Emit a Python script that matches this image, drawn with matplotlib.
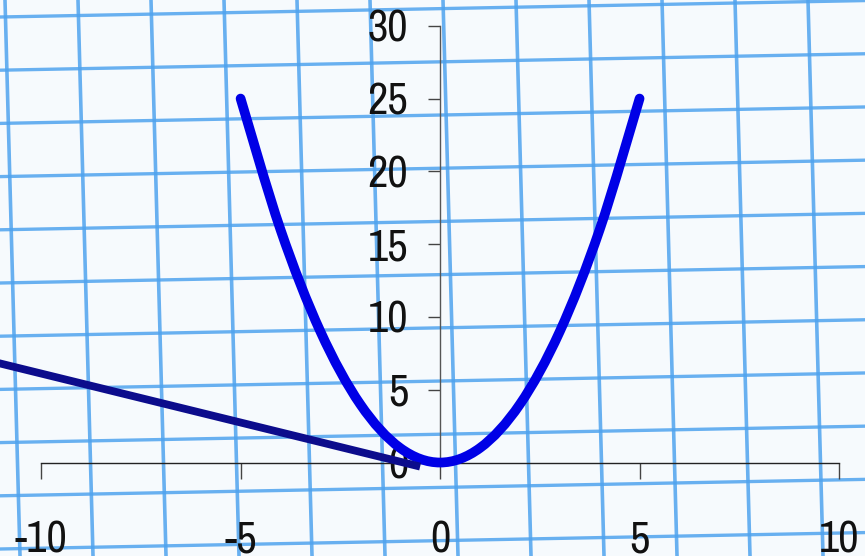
import numpy as np
import matplotlib.pyplot as plt
from matplotlib.path import Path
from matplotlib.patches import PathPatch

# parabola points
x_vals = [-5, -4, -3, -2, -1, 0, 1, 2, 3, 4, 5]
y_vals = [25, 16, 9, 4, 1, 0, 1, 4, 9, 16, 25]

# straight dark line (left end runs off the picture)
line_x = [-12, -0.5]
line_y = [7.46, -0.28]

x_ticks = [-10, -5, 0, 5, 10]
y_ticks = [0, 5, 10, 15, 20, 25, 30]

plt.rcParams['font.family'] = ['Liberation Sans Narrow', 'Arial Narrow', 'Archivo Narrow',
                               'PT Sans Narrow', 'Roboto Condensed', 'Liberation Sans']
plt.rcParams['axes.unicode_minus'] = False

fig = plt.figure(figsize=(8.65, 5.56), dpi=100)
fig.patch.set_facecolor('#f6fafd')

# graph paper behind the chart (pixel coordinates, slightly tilted photo)
bg = fig.add_axes([0, 0, 1, 1])
bg.set_xlim(0, 865)
bg.set_ylim(556, 0)
bg.axis('off')
xs = np.array([0, 865])
for k in range(-1, 12):
    bg.plot(xs, 17 + 53.2 * k - 0.019 * xs, color='#4fa3ee', lw=2.4, alpha=0.85)
ys = np.array([0, 556])
for k in range(-1, 13):
    bg.plot(5 + 73.0 * k + 0.027 * ys, ys, color='#4fa3ee', lw=2.6, alpha=0.85)

ax = fig.add_axes([0, 0, 1, 1])
ax.set_facecolor('none')
ax.set_xlim(-11.03, 10.65)
ax.set_ylim(-6.42, 31.77)


# smoothed curve through the points (like a spreadsheet "smoothed line")
def smooth_path(xv, yv):
    p = np.column_stack([xv, yv]).astype(float)
    verts = [p[0]]
    codes = [Path.MOVETO]
    n = len(p)
    for i in range(n - 1):
        p0 = p[i - 1] if i > 0 else p[i]
        p3 = p[i + 2] if i + 2 < n else p[i + 1]
        c1 = p[i] + (p[i + 1] - p0) / 6
        c2 = p[i + 1] - (p3 - p[i]) / 6
        verts += [c1, c2, p[i + 1]]
        codes += [Path.CURVE4] * 3
    return Path(verts, codes)


curve = PathPatch(smooth_path(x_vals, y_vals), fill=False, edgecolor='#0000e6',
                  lw=7, capstyle='round', joinstyle='round', zorder=3)
ax.add_patch(curve)
ax.plot(line_x, line_y, color='#0c0c8c', lw=5.6, solid_capstyle='butt', zorder=4)

for s in ['top', 'right']:
    ax.spines[s].set_visible(False)
ax.spines['left'].set_position(('data', 0))
ax.spines['bottom'].set_position(('data', 0))
ax.spines['left'].set_bounds(0, 30)
ax.spines['bottom'].set_bounds(-10, 10)
ax.spines['left'].set_color('#555555')
ax.spines['bottom'].set_color('#222222')
ax.spines['left'].set_linewidth(1)
ax.spines['bottom'].set_linewidth(1)

ax.set_xticks(x_ticks)
ax.set_yticks(y_ticks)
ax.tick_params(axis='x', direction='out', length=11.5, width=1, color='#444444',
               pad=30, labelsize=32, labelcolor='#111111')
ax.tick_params(axis='y', direction='out', length=8.6, width=1, color='#444444',
               pad=14.4, labelsize=32, labelcolor='#111111')

fig.savefig('out.png', dpi=100, facecolor=fig.get_facecolor())
